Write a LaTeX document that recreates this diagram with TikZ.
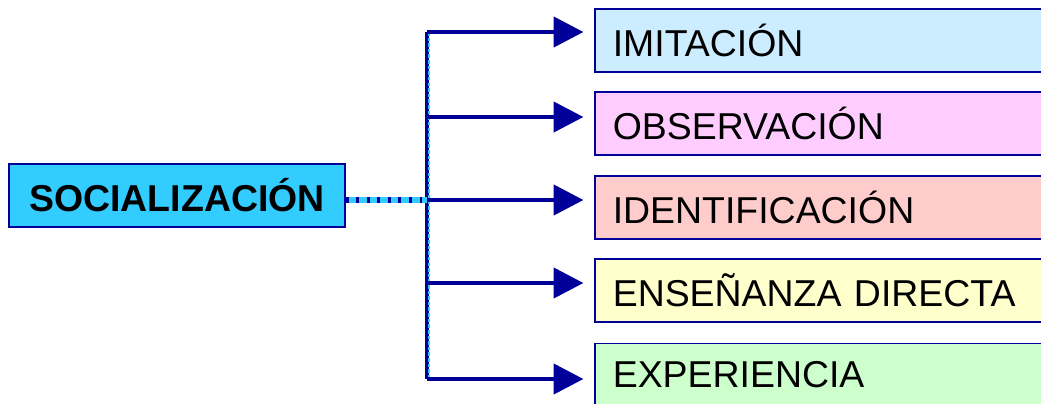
\documentclass[tikz,border=0pt]{standalone}
\usepackage{fontspec}
\setmainfont{Liberation Sans}
\usetikzlibrary{arrows.meta, positioning}

\definecolor{navy}{RGB}{0,0,153}
\definecolor{skyfill}{RGB}{51,204,255}
\definecolor{bluefill}{RGB}{204,236,255}
\definecolor{pinkfill}{RGB}{255,204,255}
\definecolor{rosefill}{RGB}{255,204,204}
\definecolor{yellowfill}{RGB}{255,255,204}
\definecolor{greenfill}{RGB}{204,255,204}

\begin{document}
\begin{tikzpicture}[
    x=0.02cm, y=-0.02cm,
    mainbox/.style={rectangle, draw=navy, line width=0.9pt, fill=skyfill, minimum width=6.72cm, minimum height=1.26cm, inner sep=0pt, align=center, font=\fontsize{21.3}{25}\selectfont\bfseries},
    itembox/.style={rectangle, draw=navy, line width=0.9pt, anchor=west, minimum height=1.26cm, inner xsep=0.36cm, inner ysep=0pt, text width=9.28cm, align=left, font=\fontsize{21.3}{25}\selectfont},
    arrow/.style={-{Triangle[length=17pt, width=17pt]}, navy, line width=2.7pt, shorten >=6pt},
    bus/.style={navy, line width=2.3pt}
  ]
  \clip (0,0) rectangle (1041,403);

  % Main concept
  \node[mainbox] (soc) at (177,195.5) {SOCIALIZACIÓN};

  % Agents of socialization
  \node[itembox, fill=bluefill] (imit) at (594,40.5) {IMITACIÓN};
  \node[itembox, fill=pinkfill] (obs) at (594,123.5) {OBSERVACIÓN};
  \node[itembox, fill=rosefill] (ident) at (594,207.5) {IDENTIFICACIÓN};
  \node[itembox, fill=yellowfill] (ens) at (594,290.5) {ENSEÑANZA DIRECTA};
  \node[itembox, fill=greenfill] (exp) at (594,375) {EXPERIENCIA};

  % Branch points on the bus
  \coordinate (b1) at (427,32);
  \coordinate (b2) at (427,117);
  \coordinate (b3) at (427,200);
  \coordinate (b4) at (427,283);
  \coordinate (b5) at (427,379);

  % Vertical bus
  \draw[bus] (b1) -- (b5);
  \draw[skyfill, line width=1pt, dash pattern=on 2pt off 1.2pt] ([xshift=1.3pt]b1) -- ([xshift=1.3pt]b5);

  % Dotted link from main box
  \draw[skyfill, line width=3.4pt] (soc.east |- b3) -- (b3);
  \draw[navy, line width=3.4pt, dash pattern=on 1.6pt off 4.4pt] (soc.east |- b3) -- (b3);

  % Arrows to each box
  \foreach \b/\n in {b1/imit, b2/obs, b3/ident, b4/ens, b5/exp} {
      \draw[arrow] (\b) -- (\b -| \n.west);
    }

\end{tikzpicture}
\end{document}
